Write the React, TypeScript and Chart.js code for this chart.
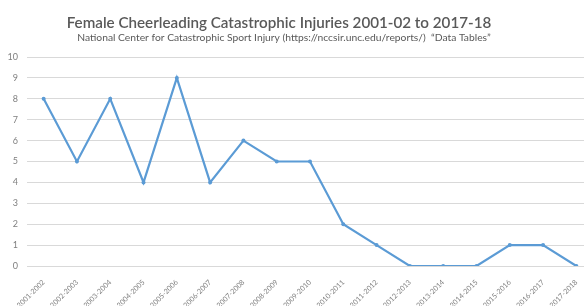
import React, { useEffect, useRef } from "react";
import { Chart, registerables } from "chart.js";

Chart.register(...registerables);

const seasons = [
  "2001-2002", "2002-2003", "2003-2004", "2004-2005", "2005-2006", "2006-2007",
  "2007-2008", "2008-2009", "2009-2010", "2010-2011", "2011-2012", "2012-2013",
  "2013-2014", "2014-2015", "2015-2016", "2016-2017", "2017-2018",
];
const injuries = [8, 5, 8, 4, 9, 4, 6, 5, 5, 2, 1, 0, 0, 0, 1, 1, 0];
const titleText = "Female Cheerleading Catastrophic Injuries 2001-02 to 2017-18";
const subtitleText =
  "National Center for Catastrophic Sport Injury (https://nccsir.unc.edu/reports/)  \u201cData Tables\u201d";

const headerPlugin = {
  id: "header",
  afterDraw(chart: any) {
    const ctx = chart.ctx;
    ctx.save();
    ctx.fillStyle = "#595959";
    ctx.textAlign = "center";
    ctx.textBaseline = "middle";
    ctx.font = "600 15.2px Lato";
    ctx.fillText(titleText, 279, 23);
    ctx.font = "400 10.3px Lato";
    ctx.fillText(subtitleText, 284, 38);
    ctx.restore();
  },
};

export default function App() {
  const ref = useRef<HTMLCanvasElement>(null);
  useEffect(() => {
    if (!ref.current) return;
    const chart = new Chart(ref.current, {
      type: "line",
      data: {
        labels: seasons,
        datasets: [
          {
            data: injuries,
            borderColor: "#5b9bd5",
            backgroundColor: "#5b9bd5",
            borderWidth: 2.2,
            pointRadius: 2,
            pointBorderWidth: 0,
            tension: 0,
          },
        ],
      },
      plugins: [headerPlugin],
      options: {
        animation: false,
        responsive: false,
        layout: { padding: { left: 0, right: 0, top: 57, bottom: 0 } },
        plugins: {
          legend: { display: false },
          tooltip: { enabled: false },
          title: { display: false },
        },
        scales: {
          x: {
            offset: true,
            grid: { display: false },
            border: { display: false },
            afterFit: (scale: any) => {
              scale.height = 40;
            },
            ticks: {
              color: "#7f7f7f",
              font: { family: "Lato", size: 7.2 },
              maxRotation: 45,
              minRotation: 45,
              autoSkip: false,
              padding: 4,
            },
          },
          y: {
            min: 0,
            max: 10,
            grid: { color: "#d9d9d9", drawTicks: false },
            border: { display: false },
            afterFit: (scale: any) => {
              scale.width = 27;
            },
            ticks: {
              stepSize: 1,
              color: "#7f7f7f",
              font: { family: "Lato", size: 9 },
              padding: 9,
            },
          },
        },
      },
    });
    return () => chart.destroy();
  }, []);
  return (
    <div style={{ position: "fixed", left: 0, top: 0, width: 584, height: 306, background: "#fff", overflow: "hidden" }}>
      <canvas ref={ref} width={597} height={306} style={{ display: "block" }} />
    </div>
  );
}
